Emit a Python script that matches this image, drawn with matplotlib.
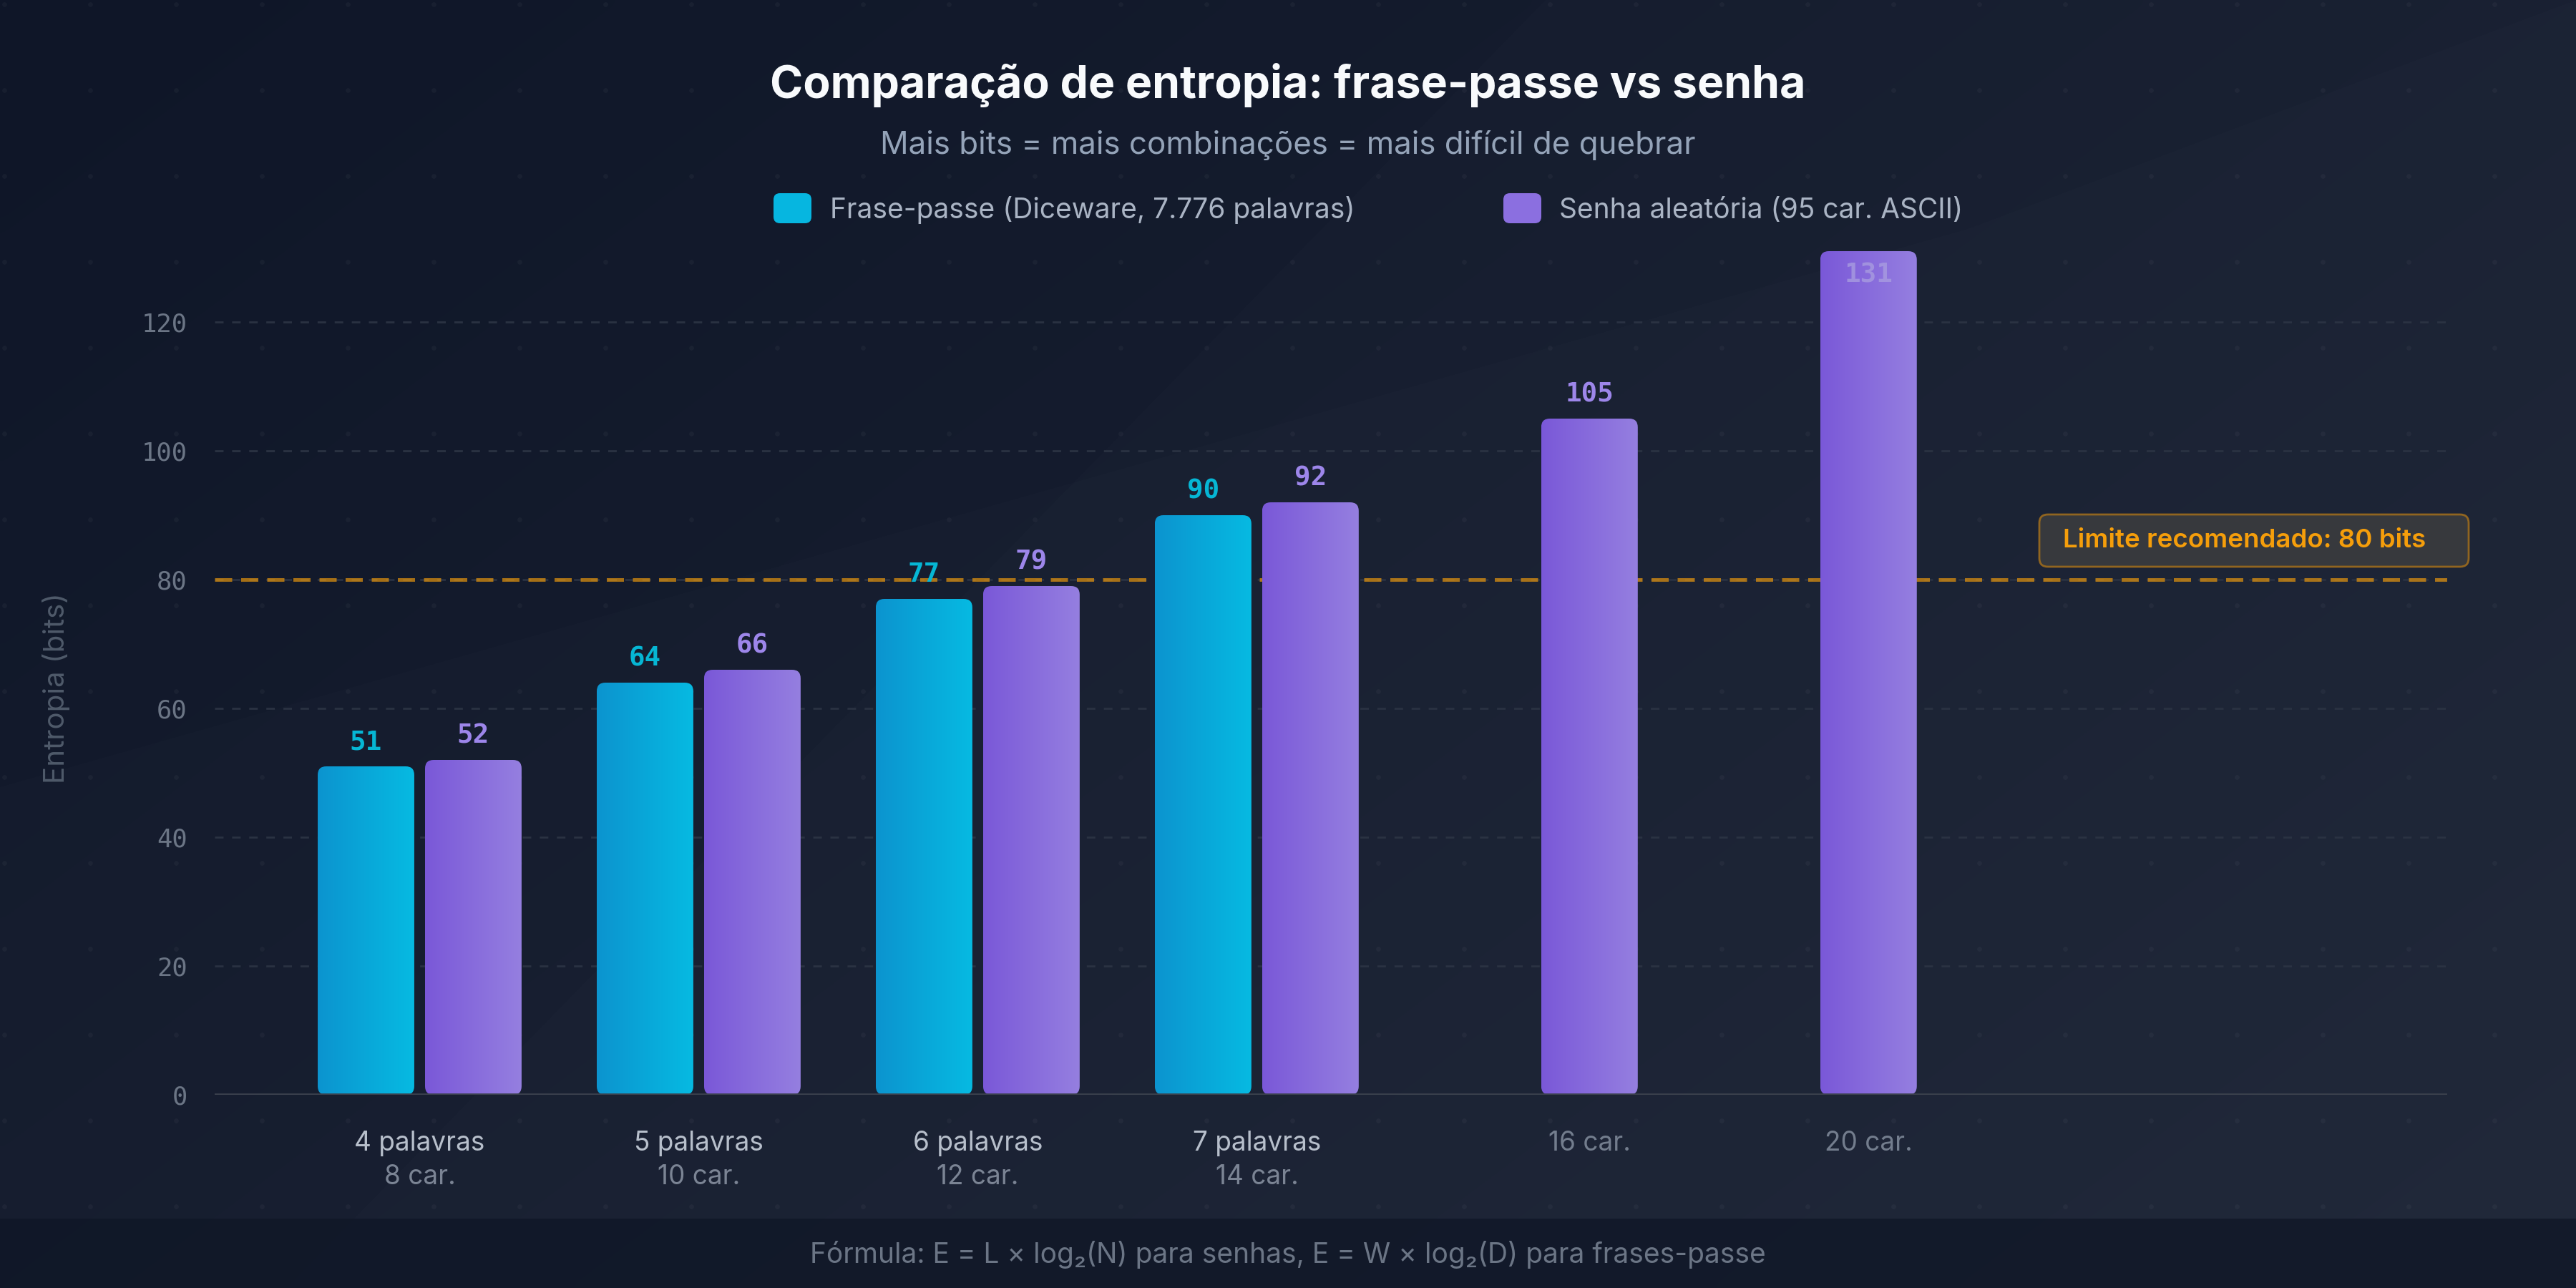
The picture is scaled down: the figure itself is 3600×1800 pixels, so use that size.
import numpy as np
import matplotlib
matplotlib.use("Agg")
import matplotlib.pyplot as plt
from matplotlib.patches import FancyBboxPatch, Rectangle, Polygon
from matplotlib.colors import LinearSegmentedColormap
from matplotlib.transforms import blended_transform_factory

# ---------------- data ----------------
group_top = ["4 palavras", "5 palavras", "6 palavras", "7 palavras", "16 car.", "20 car."]
group_sub = ["8 car.", "10 car.", "12 car.", "14 car.", "", ""]
passphrase_bits = [51, 64, 77, 90, None, None]
password_bits = [52, 66, 79, 92, 105, 131]
threshold = 80
yticks = [0, 20, 40, 60, 80, 100, 120]

title = "Comparação de entropia: frase-passe vs senha"
subtitle = "Mais bits = mais combinações = mais difícil de quebrar"
legend_labels = ["Frase-passe (Diceware, 7.776 palavras)", "Senha aleatória (95 car. ASCII)"]
threshold_label = "Limite recomendado: 80 bits"
footer = "Fórmula: E = L × log₂(N) para senhas, E = W × log₂(D) para frases-passe"

# ---------------- style ----------------
W, H, DPI = 3600, 1800, 200
SANS = ["Inter", "DejaVu Sans"]
MONO = ["DejaVu Sans Mono"]
CYAN = "#06b6d4"
PURPLE = "#8b6fe0"
cyan_grad = LinearSegmentedColormap.from_list("cy", ["#0c94cf", "#06bae2"])
purple_grad = LinearSegmentedColormap.from_list("pu", ["#7a58d8", "#957fe0"])

plt.rcParams["font.family"] = SANS


def fx(px):
    return px / W


def fy(py):
    return 1 - py / H


fig = plt.figure(figsize=(W / DPI, H / DPI), dpi=DPI)

# background
bg = fig.add_axes([0, 0, 1, 1], zorder=-10)
bg.set_xlim(0, W)
bg.set_ylim(H, 0)
bg.axis("off")
gx, gy = np.meshgrid(np.linspace(0, 1, 300), np.linspace(0, 1, 150))
t = np.clip(0.6 * gx + 0.4 * gy, 0, 1)
c0 = np.array([15, 22, 40]) / 255
c1 = np.array([29, 37, 54]) / 255
img = c0[None, None, :] * (1 - t[..., None]) + c1[None, None, :] * t[..., None]
bg.imshow(img, extent=[0, W, H, 0], aspect="auto", interpolation="bicubic")
bg.add_patch(Polygon([[2160, 0], [3600, 0], [3600, 1800], [1200, 1800], [400, 1800]],
                     closed=True, facecolor="white", alpha=0.012, edgecolor="none"))
bg.add_patch(Polygon([[0, 1100], [2750, 320], [3600, 0], [3600, 1800], [0, 1800]],
                     closed=True, facecolor="white", alpha=0.012, edgecolor="none"))
dx, dy = np.meshgrid(np.arange(6, W, 120), np.arange(6, H, 120))
bg.scatter(dx.ravel(), dy.ravel(), s=6, color="white", alpha=0.035, linewidths=0)
bg.add_patch(Rectangle((0, 1703), W, 97, facecolor="#0f1626", alpha=0.75, edgecolor="none"))

# main axes
ax_left, ax_right, ax_bottom, ax_top = 300, 3420, 1530, 306
ax = fig.add_axes([fx(ax_left), 1 - ax_bottom / H, (ax_right - ax_left) / W, (ax_bottom - ax_top) / H])
ax.patch.set_alpha(0)
xmin, xmax = -0.7346, 7.266
ymin, ymax = 0, 136
px_per_x = (ax_right - ax_left) / (xmax - xmin)
px_per_y = (ax_bottom - ax_top) / (ymax - ymin)
aspect = px_per_x / px_per_y

bar_w = 0.346
offset = 0.1923
radius = 12 / px_per_x


def gradient_bar(xc, h, cmap):
    x0 = xc - bar_w / 2
    patch = FancyBboxPatch((x0, 0), bar_w, h, boxstyle=f"round,pad=0,rounding_size={radius}",
                           mutation_aspect=aspect, facecolor="none", edgecolor="none", zorder=3)
    ax.add_patch(patch)
    im = ax.imshow(np.linspace(0, 1, 256).reshape(1, -1), extent=[x0, x0 + bar_w, 0, h],
                   cmap=cmap, aspect="auto", zorder=3, interpolation="bilinear")
    im.set_clip_path(patch)


def value_label(xc, v, color):
    if v + 8 > ymax - 2:
        ax.annotate(str(v), (xc, v), xytext=(0, -5.5), textcoords="offset points",
                    ha="center", va="top", family=MONO, fontweight="bold",
                    fontsize=13.5, color="#aa9fe0", alpha=0.75, zorder=6)
    else:
        ax.annotate(str(v), (xc, v), xytext=(0, 8.6), textcoords="offset points",
                    ha="center", va="baseline", family=MONO, fontweight="bold",
                    fontsize=13.5, color=color, zorder=6)


# grid + reference line
for yt in yticks[1:]:
    ax.axhline(yt, color="#2a3242", lw=1.0, ls=(0, (4.3, 4.3)), zorder=1)
ax.axhline(threshold, color="#f59e0b", alpha=0.65, lw=1.8, ls=(0, (4.8, 2.5)), zorder=2)

label_tr = blended_transform_factory(ax.transData, fig.transFigure)
for i in range(len(group_top)):
    p = passphrase_bits[i]
    s = password_bits[i]
    if p is not None:
        gradient_bar(i - offset, p, cyan_grad)
        value_label(i - offset, p, CYAN)
    if s is not None:
        gradient_bar(i + offset, s, purple_grad)
        value_label(i + offset, s, "#9d86ea")
    if p is not None and s is not None:
        lx = i
        top_color = "#b7bfcb"
    else:
        lx = i + offset if s is not None else i - offset
        top_color = "#737d8d"
    ax.text(lx, fy(1608), group_top[i], transform=label_tr, ha="center", va="baseline",
            fontsize=13.3, color=top_color)
    if group_sub[i]:
        ax.text(lx, fy(1655), group_sub[i], transform=label_tr, ha="center", va="baseline",
                fontsize=13.3, color="#7b8494")

ax.axhline(0, color="#3b414d", lw=1.7, zorder=4)

ax.set_xlim(xmin, xmax)
ax.set_ylim(ymin, ymax)
ax.set_xticks([])
ax.set_yticks(yticks)
ax.set_yticklabels([str(v) for v in yticks], family=MONO, fontsize=12.8, color="#6b7585")
ax.tick_params(axis="y", length=0, pad=13.7)
for sp in ax.spines.values():
    sp.set_visible(False)

# threshold box
bx0, bx1, by0, by1 = 2850, 3450, 719, 792
fig.patches.append(FancyBboxPatch((fx(bx0), fy(by1)), fx(bx1 - bx0), (by1 - by0) / H,
                                  boxstyle=f"round,pad=0,rounding_size={12 / W}", mutation_aspect=2,
                                  transform=fig.transFigure, facecolor="#3a3b3e", alpha=0.92,
                                  edgecolor="#9a6a1e", lw=1.0, zorder=8))
fig.text(fx(2883), fy((by0 + by1) / 2), threshold_label, ha="left", va="center",
         fontsize=13.2, color="#f59e0b", fontweight="semibold", zorder=9)

# titles
fig.text(0.5, fy(137), title, ha="center", va="baseline", fontsize=22.5, fontweight="bold", color="#f8fafc")
fig.text(0.5, fy(215), subtitle, ha="center", va="baseline", fontsize=15.8, color="#94a3b8")

# legend
for (sx, tx), lab, col in zip([(1081, 1160), (2101, 2179)], legend_labels, ["#06b6e0", PURPLE]):
    fig.patches.append(FancyBboxPatch((fx(sx), fy(312)), fx(53), 42 / H,
                                      boxstyle=f"round,pad=0,rounding_size={9 / W}", mutation_aspect=2,
                                      transform=fig.transFigure, facecolor=col, edgecolor="none"))
    fig.text(fx(tx), fy(305), lab, ha="left", va="baseline", fontsize=14, color="#aab4c4")

# y label
fig.text(fx(79), fy(962), "Entropia (bits)", rotation=90, ha="center", va="center",
         fontsize=14.5, color="#4f5a6a")

# footer
fig.text(0.5, fy(1765), footer, ha="center", va="baseline", fontsize=14,
         color="#6b7585", family=["Inter", "DejaVu Sans"])

fig.savefig("out.png", dpi=DPI)
